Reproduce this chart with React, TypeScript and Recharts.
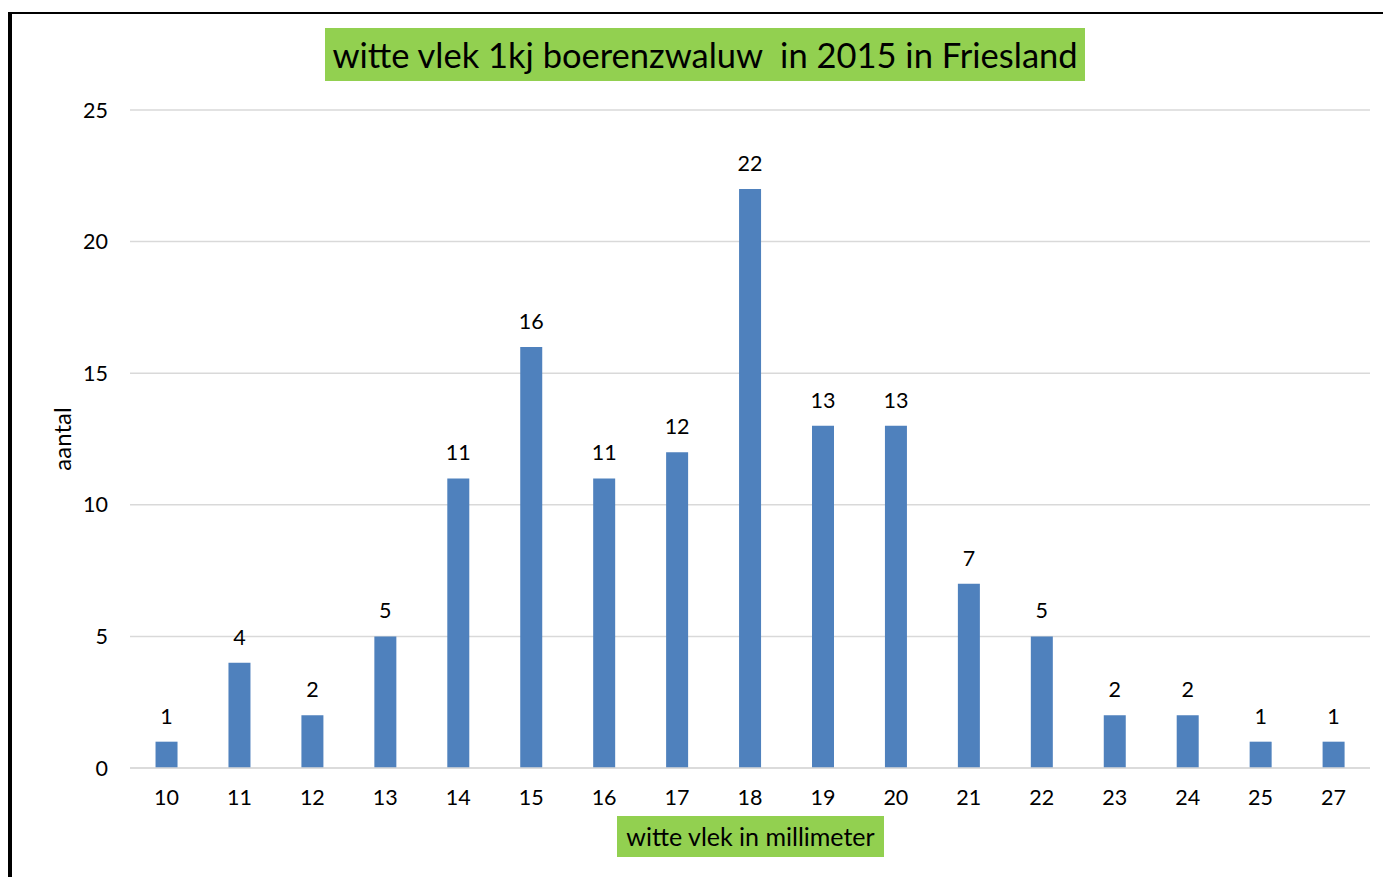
import { BarChart, Bar, XAxis, YAxis, CartesianGrid, LabelList } from "recharts";

const categories = ["10", "11", "12", "13", "14", "15", "16", "17", "18", "19", "20", "21", "22", "23", "24", "25", "27"];
const counts = [1, 4, 2, 5, 11, 16, 11, 12, 22, 13, 13, 7, 5, 2, 2, 1, 1];
const yTicks = [0, 5, 10, 15, 20, 25];

const data = categories.map((mm, i) => ({ mm, aantal: counts[i] }));

const FONT = "Lato, 'Open Sans', sans-serif";
const GREEN = "#92d050";

export default function App() {
  return (
    <div
      style={{
        position: "relative",
        marginTop: 4,
        width: 1379,
        height: 863,
        borderTop: "2px solid #000",
        borderLeft: "4px solid #000",
        fontFamily: FONT,
        background: "#fff",
      }}
    >
      <div
        style={{
          position: "absolute",
          left: 313,
          top: 14,
          width: 760,
          height: 53,
          lineHeight: "53px",
          background: GREEN,
          textAlign: "center",
          fontSize: 34.5,
          color: "#000",
          whiteSpace: "pre",
        }}
      >
        witte vlek 1kj boerenzwaluw  in 2015 in Friesland
      </div>
      <BarChart
        width={1375}
        height={861}
        data={data}
        margin={{ top: 96, right: 17, bottom: 40, left: 40 }}
        barCategoryGap="35%"
      >
        <CartesianGrid vertical={false} stroke="#d9d9d9" strokeWidth={1.5} />
        <XAxis
          dataKey="mm"
          tickLine={false}
          axisLine={{ stroke: "#d9d9d9", strokeWidth: 1.5 }}
          tick={{ fill: "#000", fontSize: 21.5, fontFamily: FONT }}
          tickMargin={16}
          height={67}
        />
        <YAxis
          domain={[0, 25]}
          ticks={yTicks}
          tickLine={false}
          axisLine={false}
          tick={{ fill: "#000", fontSize: 21.5, fontFamily: FONT }}
          tickMargin={16}
          width={78}
          label={{
            value: "aantal",
            angle: -90,
            position: "insideLeft",
            offset: 10,
            style: { textAnchor: "middle", fill: "#000", fontSize: 24, fontFamily: FONT },
          }}
        />
        <Bar dataKey="aantal" fill="#4f81bd" isAnimationActive={false}>
          <LabelList dataKey="aantal" position="top" offset={18} fill="#000" fontSize={21.5} fontFamily={FONT} />
        </Bar>
      </BarChart>
      <div
        style={{
          position: "absolute",
          left: 605,
          top: 802,
          width: 267,
          height: 41,
          lineHeight: "41px",
          background: GREEN,
          textAlign: "center",
          fontSize: 25,
          color: "#000",
        }}
      >
        witte vlek in millimeter
      </div>
    </div>
  );
}
